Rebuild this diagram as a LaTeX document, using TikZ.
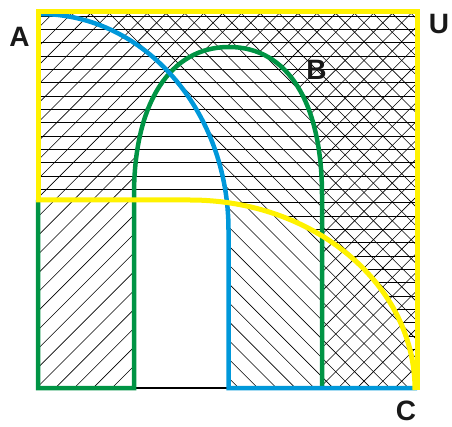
\documentclass[tikz,border=0pt]{standalone}
\usepackage{fontspec}
\setmainfont{Liberation Sans}
\definecolor{setyellow}{RGB}{255,242,0}
\definecolor{setblue}{RGB}{0,152,218}
\definecolor{setgreen}{RGB}{0,148,68}
\tikzset{
  hatchline/.style={black,line width=0.6pt},
  yellowline/.style={setyellow,line width=5pt,line join=miter},
  blueline/.style={setblue,line width=4.5pt},
  greenline/.style={setgreen,line width=4.5pt},
  setlabel/.style={inner sep=0pt,font=\fontsize{28}{30}\selectfont\bfseries,text=black!90}
}
\begin{document}
\begin{tikzpicture}[x=1pt,y=-1pt]
\useasboundingbox (0,0) rectangle (452,427);
% ---- A : horizontal lines
\begin{scope}
\clip (39,13) -- (416,13) -- (416,387) -- (415,387)
  .. controls (415,284.2) and (314.3,200) .. (190,200) -- (39,200) -- cycle;
\foreach \k in {0,...,28}{
  \draw[hatchline] (30,{15.9+13.33*\k}) -- (430,{15.9+13.33*\k});
}
\end{scope}
% ---- B : north east lines (U minus arch)
\begin{scope}
\clip (39,13) -- (39,387) -- (134,387) -- (134,195)
  .. controls (134,103) and (170,47) .. (229,47)
  .. controls (288,47) and (322,103) .. (322,195)
  -- (322,387) -- (416,387) -- (416,13) -- cycle;
\foreach \k in {2,...,44}{
  \draw[hatchline] ({9.6+18.86*\k},0) -- ({9.6+18.86*\k-420},420);
}
\end{scope}
% ---- C : north west lines
\begin{scope}
\clip (40,13) .. controls (144.1,13) and (228.5,110.7) .. (228.5,230)
  -- (228.5,387) -- (416,387) -- (416,13) -- cycle;
\foreach \k in {-20,...,22}{
  \draw[hatchline] ({1.7+18.86*\k},0) -- ({1.7+18.86*\k+420},420);
}
\end{scope}
% ---- boundaries
\coordinate (bl) at (38,388);
\coordinate (gl) at (134,388);
\coordinate (gr) at (322,388);
\coordinate (cb) at (228.5,388);
\coordinate (br) at (417,388);
\draw[black,line width=2pt] (gl) -- (cb);
\draw[greenline] (38,200) -- (bl) -- (gl) -- (134,195)
  .. controls (134,103) and (170,47) .. (229,47)
  .. controls (288,47) and (322,103) .. (322,195) -- (gr);
\draw[blueline] (40,14) .. controls (144.1,14) and (228.5,110.7) .. (228.5,230)
  -- (cb) -- (br);
\draw[yellowline] (38,200) -- (38,12) -- (417,12) -- (417,390);
\draw[yellowline] (36,200) -- (190,200) .. controls (314.3,200) and (415,284.2) .. (415,390);
% ---- labels
\node[setlabel] (A) at (19.5,37) {A};
\node[setlabel] (U) at (439,24) {U};
\node[setlabel] (B) at (316.5,70) {B};
\node[setlabel] (C) at (406,411) {C};
\end{tikzpicture}
\end{document}
